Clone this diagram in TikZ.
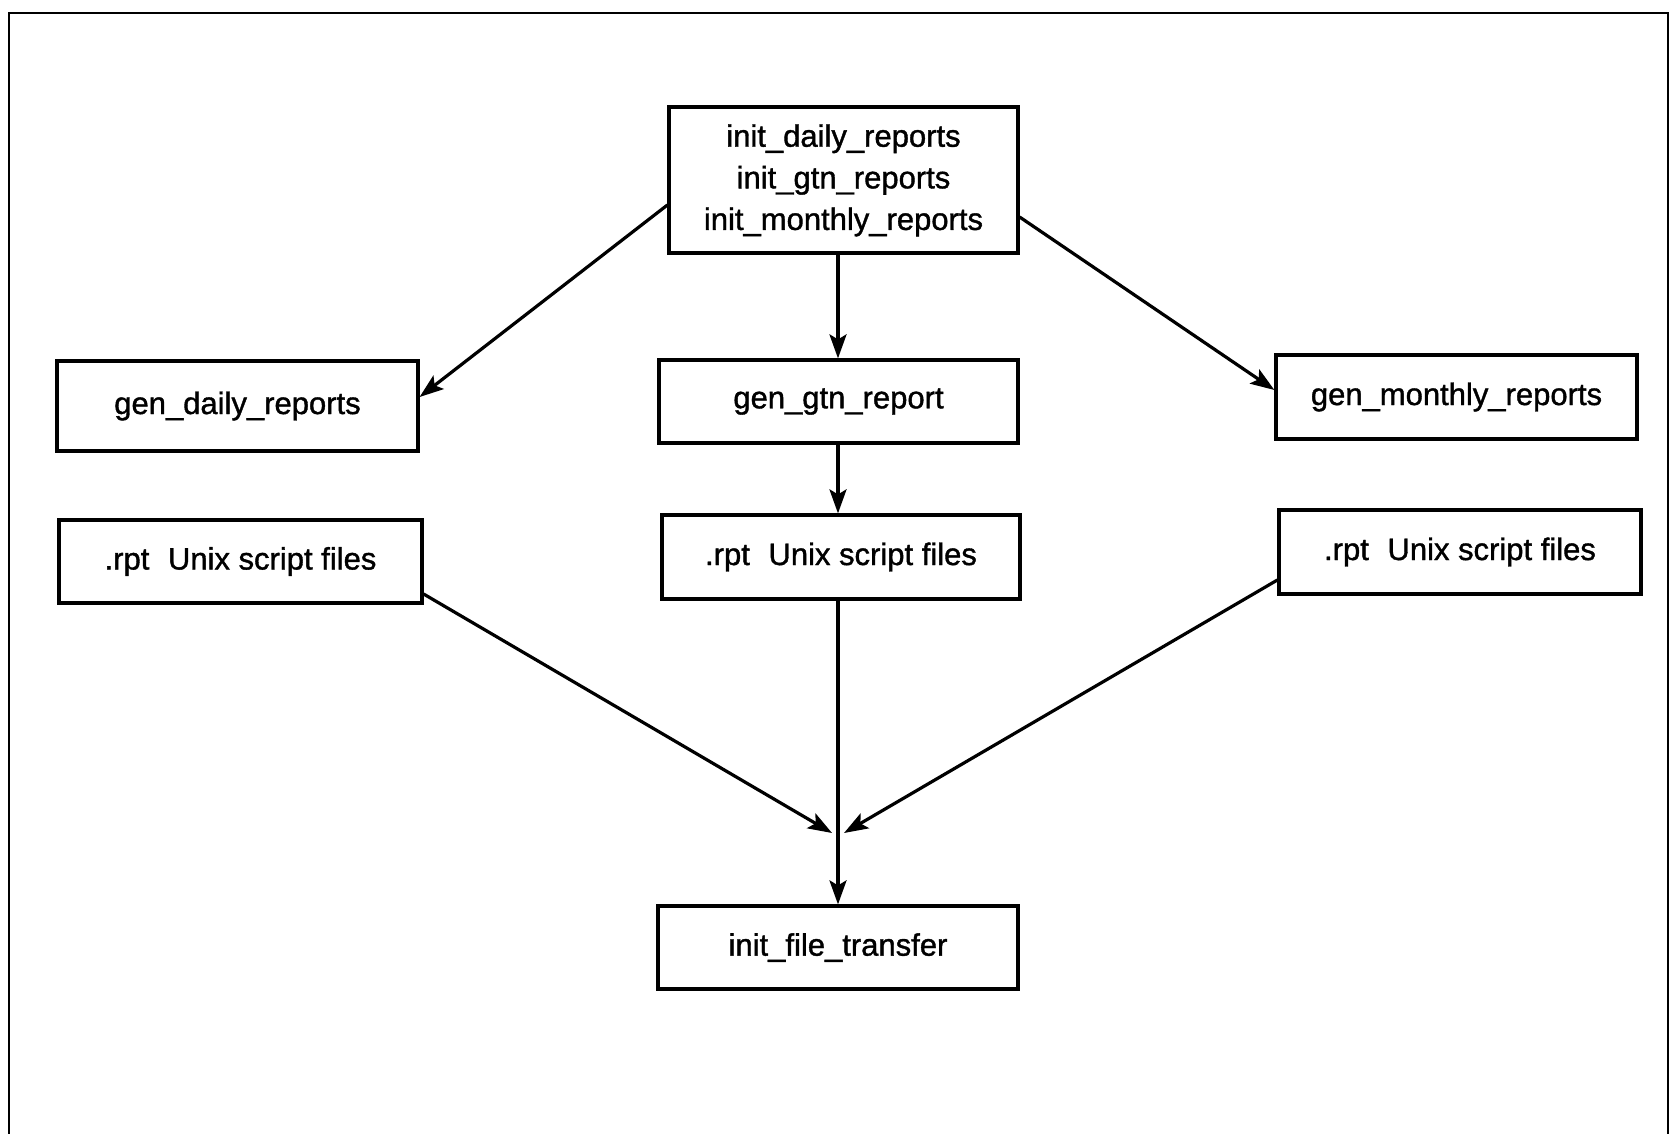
\documentclass[tikz,border=0pt]{standalone}
\usepackage{fontspec}
\setmainfont{Liberation Sans}[UprightFeatures={FakeBold=1.2}]
\usetikzlibrary{arrows.meta}
\begin{document}
\begin{tikzpicture}[x=1pt,y=-1pt,
  box/.style={draw,line width=3.2pt,inner sep=0pt,font=\fontsize{31}{41.6}\selectfont,align=center},
  conn/.style={line width=3.2pt,-{Stealth[length=24pt,width=17pt,inset=5pt]}},
  plain/.style={line width=3.2pt}]
\useasboundingbox (0,0) rectangle (1674,1134);
\fill[white] (0,0) rectangle (1674,1134);
\draw[line width=2pt] (9,1134) -- (9,13) -- (1668,13) -- (1668,1134);
\node[box,minimum width=349pt,minimum height=146pt] (top) at (843.5,180) {\raisebox{-4pt}{\begin{tabular}{@{}c@{}}init\_daily\_reports\\init\_gtn\_reports\\init\_monthly\_reports\end{tabular}}};
\node[box,minimum width=361pt,minimum height=90pt] (gdaily) at (237.5,406) {gen\_daily\_reports};
\node[box,minimum width=359pt,minimum height=83pt] (ggtn) at (838.5,401.5) {gen\_gtn\_report};
\node[box,minimum width=361pt,minimum height=84pt] (gmonthly) at (1456.5,397) {gen\_monthly\_reports};
\node[box,minimum width=363pt,minimum height=83pt] (rptL) at (240.5,561.5) {.rpt\hspace{0.6em}Unix script files};
\node[box,minimum width=358pt,minimum height=84pt] (rptM) at (841,557) {.rpt\hspace{0.6em}Unix script files};
\node[box,minimum width=362pt,minimum height=84pt] (rptR) at (1460,552) {.rpt\hspace{0.6em}Unix script files};
\node[box,minimum width=360pt,minimum height=83pt] (ift) at (838,947.5) {init\_file\_transfer};
\coordinate (j) at (838,835);
\coordinate (jl) at (832,833);
\coordinate (jr) at (844,833);
% from top box
\draw[conn] (top.west |- {(0,205)}) -- (gdaily.east |- {(0,397)});
\draw[conn] (top.south -| j) -- (ggtn.north -| j);
\draw[conn] (top.east |- {(0,217)}) -- (gmonthly.west |- {(0,390)});
\draw[conn] (ggtn.south -| j) -- (rptM.north -| j);
% to init_file_transfer
\draw[conn] (rptL.east |- {(0,594)}) -- (jl);
\draw[conn] (rptR.west |- {(0,580)}) -- (jr);
\draw[plain] (rptM.south -| j) -- (j);
\draw[conn] (j) -- (ift.north -| j);
\end{tikzpicture}
\end{document}
